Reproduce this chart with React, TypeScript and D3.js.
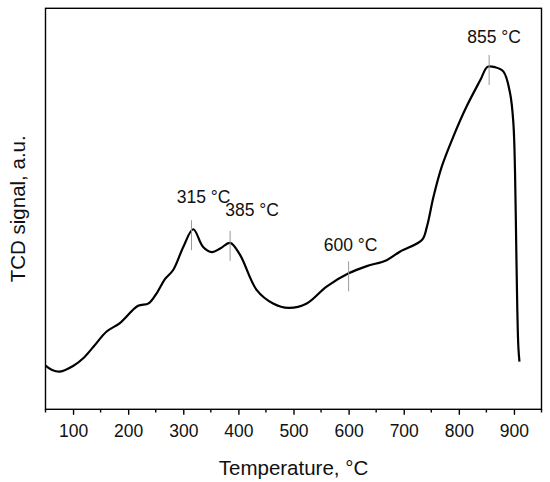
import { useEffect, useRef } from 'react';
import * as d3 from 'd3';

// TPR profile (temperature in °C, signal in a.u.)
const temps = [
  50, 62, 76, 100, 119, 137, 161, 185, 218, 237, 252, 267, 282, 300, 318, 336,
  352, 367, 385, 403, 433, 463, 491, 524, 560, 600, 633, 669, 693, 733, 742,
  754, 769, 790, 814, 839, 852, 866, 881, 893, 899, 902, 904, 906, 908, 910,
];
const signal = [
  10.9, 9.8, 9.4, 10.8, 12.8, 15.6, 19.4, 21.5, 25.8, 26.4, 29.0, 32.5, 34.8,
  40.5, 44.9, 40.5, 39.2, 40.1, 41.5, 38.5, 29.8, 26.4, 25.3, 26.4, 30.6, 33.9,
  35.7, 37.2, 39.3, 42.2, 45.5, 53.0, 60.5, 68.0, 75.5, 82.1, 85.4, 85.3, 84.2,
  78.8, 71.3, 58.9, 42.2, 25.6, 15.6, 11.9,
];

const peakTemps = [315, 385, 600, 855];
const peakLabels = ['315 °C', '385 °C', '600 °C', '855 °C'];

const majorTicks = [100, 200, 300, 400, 500, 600, 700, 800, 900];
const minorTicks = [50, 150, 250, 350, 450, 550, 650, 750, 850, 950];

export default function App() {
  const svgRef = useRef<SVGSVGElement>(null);

  useEffect(() => {
    if (!svgRef.current) return;

    const width = 550;
    const height = 482;
    const plot = { left: 45.5, right: 541.5, top: 8.3, bottom: 409.3 };
    const font = "'Liberation Sans', Arial, sans-serif";

    const svg = d3.select(svgRef.current);
    svg.selectAll('*').remove();
    svg.attr('width', width).attr('height', height);

    const x = d3.scaleLinear().domain([50, 950]).range([plot.left, plot.right]);
    const y = d3.scaleLinear().domain([0, 100]).range([plot.bottom, plot.top]);

    const data = temps.map((t, i) => ({ t, s: signal[i] }));

    // curve
    const line = d3.line<any>()
      .x((d) => x(d.t))
      .y((d) => y(d.s))
      .curve(d3.curveCatmullRom.alpha(0.5));

    svg.append('path')
      .datum(data)
      .attr('d', line)
      .attr('fill', 'none')
      .attr('stroke', '#000')
      .attr('stroke-width', 2.2)
      .attr('stroke-linejoin', 'round');

    // peak markers
    const interp = (t: number) => {
      const i = d3.bisector((d: any) => d.t).left(data, t);
      if (i <= 0) return data[0].s;
      const a = data[i - 1], b = data[i];
      return a.s + ((t - a.t) / (b.t - a.t)) * (b.s - a.s);
    };
    const labelDx = [12, 22, 2, 5];
    const labelDy = [-29, -27, -22, -24];

    peakTemps.forEach((t, i) => {
      const px = x(t);
      const py = y(interp(t));
      svg.append('line')
        .attr('x1', px).attr('x2', px)
        .attr('y1', py - 12).attr('y2', py + 18)
        .attr('stroke', '#999')
        .attr('stroke-width', 1);
      svg.append('text')
        .attr('x', px + labelDx[i])
        .attr('y', py + labelDy[i])
        .attr('text-anchor', 'middle')
        .attr('font-family', font)
        .attr('font-size', 17.5)
        .attr('fill', '#111')
        .text(peakLabels[i]);
    });

    // frame
    svg.append('rect')
      .attr('x', plot.left).attr('y', plot.top)
      .attr('width', plot.right - plot.left)
      .attr('height', plot.bottom - plot.top)
      .attr('fill', 'none')
      .attr('stroke', '#000')
      .attr('stroke-width', 1.4);

    // x axis
    const xAxis = svg.append('g')
      .attr('transform', `translate(0,${plot.bottom})`)
      .call(d3.axisBottom(x).tickValues(majorTicks).tickSize(5.5).tickSizeOuter(0).tickPadding(9.6));
    xAxis.select('.domain').remove();
    xAxis.selectAll('line').attr('stroke', '#000').attr('stroke-width', 1.4);
    xAxis.selectAll('text')
      .attr('font-family', font)
      .attr('font-size', 17.5)
      .attr('fill', '#111');

    svg.append('g')
      .selectAll('line')
      .data(minorTicks)
      .enter().append('line')
      .attr('x1', (d) => x(d)).attr('x2', (d) => x(d))
      .attr('y1', plot.bottom).attr('y2', plot.bottom + 3.2)
      .attr('stroke', '#000')
      .attr('stroke-width', 1.4);

    // axis titles
    svg.append('text')
      .attr('x', (plot.left + plot.right) / 2)
      .attr('y', 475)
      .attr('text-anchor', 'middle')
      .attr('font-family', font)
      .attr('font-size', 20.5)
      .attr('fill', '#111')
      .text('Temperature, °C');

    svg.append('text')
      .attr('transform', `translate(25,${(plot.top + plot.bottom) / 2}) rotate(-90)`)
      .attr('text-anchor', 'middle')
      .attr('font-family', font)
      .attr('font-size', 20.5)
      .attr('fill', '#111')
      .text('TCD signal, a.u.');
  }, []);

  return (
    <svg
      ref={svgRef}
      style={{ position: 'absolute', left: 0, top: 0, display: 'block', background: '#fff' }}
    />
  );
}
